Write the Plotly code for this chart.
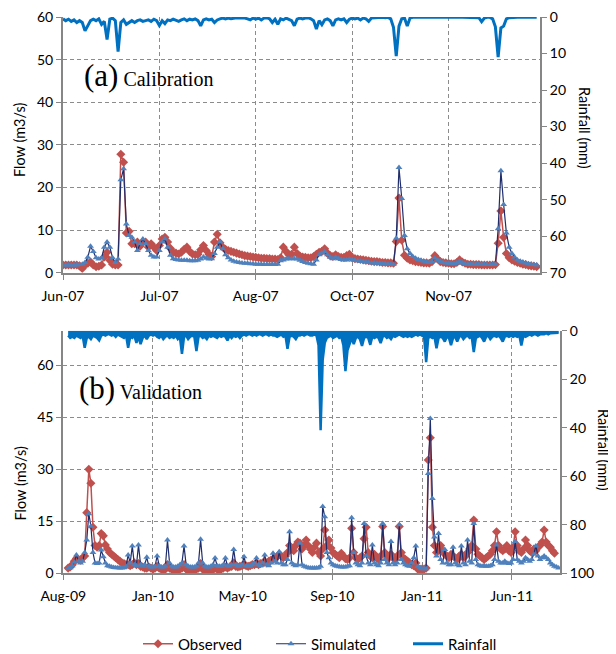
import pandas as pd
import plotly.graph_objects as go

# ---------------- Panel (a): Calibration, daily values ----------------
CAL_START = "2007-06-20"
cal_tick_labels = ["Jun-07", "Jul-07", "Aug-07", "Oct-07", "Nov-07"]

cal_observed = [
    1.8, 1.8, 1.8, 1.8, 1.8, 1.8, 1.6, 1.0, 1.8, 2.2,
    2.5, 1.8, 1.4, 1.5, 1.8, 3.7, 4.8, 2.9, 2.0, 1.8,
    1.8, 27.8, 25.9, 9.3, 9.7, 6.8, 6.8, 7.2, 6.2, 7.2,
    7.2, 6.0, 6.8, 6.0, 5.2, 6.4, 7.9, 8.3, 7.2, 5.7,
    4.8, 4.6, 4.4, 4.8, 5.5, 6.0, 5.0, 4.4, 4.2, 4.3,
    5.4, 6.4, 5.2, 4.3, 3.8, 7.2, 9.0, 7.0, 6.0, 5.5,
    5.2, 5.0, 4.8, 4.6, 4.4, 4.2, 4.0, 3.9, 3.8, 3.7,
    3.6, 3.5, 3.4, 3.4, 3.3, 3.3, 3.2, 3.2, 3.1, 3.5,
    6.0, 5.0, 4.2, 4.3, 6.0, 4.5, 3.9, 3.7, 3.6, 3.5,
    3.5, 3.8, 4.3, 4.8, 5.0, 5.6, 4.6, 4.0, 3.8, 4.2,
    3.8, 3.6, 3.6, 4.0, 4.3, 3.5, 3.3, 3.2, 3.1, 3.0,
    2.9, 2.8, 2.7, 2.6, 2.6, 2.5, 2.4, 2.4, 2.3, 2.3,
    2.2, 7.3, 17.5, 7.6, 4.1, 3.4, 3.0, 2.8, 2.6, 2.5,
    2.4, 2.3, 2.3, 2.2, 2.6, 4.0, 3.2, 2.6, 2.4, 2.3,
    2.2, 2.1, 2.1, 2.4, 3.0, 2.5, 2.2, 2.0, 2.0, 1.9,
    1.9, 1.9, 1.8, 1.8, 1.8, 1.8, 1.8, 1.9, 6.9, 14.5,
    8.3, 4.5, 3.5, 3.0, 2.7, 2.4, 2.2, 2.0, 1.9, 1.7,
    1.6, 1.5, 1.4,
]
cal_simulated = [
    1.8, 1.8, 1.8, 1.8, 1.8, 1.8, 1.9, 2.0, 2.4, 3.6,
    6.2, 5.0, 3.5, 3.2, 3.5, 6.0, 7.2, 6.0, 3.5, 2.4,
    3.2, 21.8, 24.4, 11.4, 8.7, 8.3, 7.2, 5.2, 6.8, 7.9,
    6.8, 5.2, 4.1, 3.7, 3.7, 5.2, 7.2, 7.9, 6.0, 4.1,
    3.3, 3.1, 3.0, 2.9, 2.9, 2.9, 2.8, 2.8, 2.8, 2.9,
    3.2, 3.7, 3.4, 3.2, 3.3, 4.5, 6.0, 7.2, 5.6, 4.2,
    3.5, 3.0, 2.7, 2.5, 2.4, 2.3, 2.2, 2.2, 2.1, 2.1,
    2.0, 2.0, 2.0, 1.9, 1.9, 1.9, 1.9, 1.9, 2.0, 2.8,
    3.0, 3.2, 3.3, 3.3, 3.3, 3.2, 2.9, 2.6, 2.4, 2.2,
    2.1, 2.0, 3.0, 4.2, 4.6, 5.0, 4.2, 3.6, 3.3, 3.6,
    3.3, 3.1, 3.0, 3.0, 3.2, 3.0, 2.9, 2.8, 2.7, 2.6,
    2.5, 2.4, 2.3, 2.3, 2.2, 2.2, 2.1, 2.1, 2.0, 2.0,
    2.0, 8.1, 24.7, 17.4, 8.7, 5.6, 4.5, 3.8, 3.4, 3.1,
    2.9, 2.7, 2.5, 2.4, 2.6, 3.4, 3.0, 2.6, 2.4, 2.3,
    2.2, 2.2, 2.1, 2.3, 2.6, 2.3, 2.1, 2.0, 2.0, 2.0,
    2.0, 2.0, 2.0, 1.9, 1.9, 1.9, 1.9, 2.0, 10.3, 23.9,
    16.0, 9.3, 6.0, 4.5, 3.6, 3.0, 2.7, 2.5, 2.3, 2.1,
    2.0, 1.9, 1.8,
]
cal_rainfall = [
    0.5, 1.0, 0.6, 1.2, 0.8, 1.5, 1.0, 1.5, 3.8, 2.5,
    1.0, 0.6, 1.0, 0.5, 2.0, 1.2, 6.2, 0.6, 0.3, 1.0,
    9.5, 1.5, 0.8, 2.0, 1.5, 1.0, 1.5, 1.0, 0.8, 1.2,
    1.0, 0.8, 1.2, 0.6, 1.0, 2.3, 1.0, 1.8, 0.8, 1.0,
    0.6, 0.8, 1.2, 0.8, 0.5, 1.0, 0.6, 0.8, 0.5, 1.0,
    2.4, 0.8, 0.5, 0.8, 0.6, 1.5, 0.8, 0.5, 0.3, 0.5,
    0.3, 0.5, 0.3, 0.2, 0.3, 0.2, 0.3, 0.5, 0.8, 0.3,
    0.6, 0.3, 0.8, 0.3, 0.2, 0.5, 1.5, 0.6, 2.0, 0.5,
    0.8, 0.3, 0.6, 1.0, 2.4, 0.6, 0.3, 0.5, 0.3, 0.2,
    0.5, 1.0, 3.3, 1.0, 2.1, 0.8, 0.5, 1.0, 2.4, 0.8,
    0.5, 0.8, 0.5, 1.5, 0.6, 0.3, 0.5, 0.3, 0.8, 0.3,
    0.5, 1.2, 0.3, 0.2, 0.3, 0.2, 0.1, 0.2, 0.1, 0.5,
    2.8, 10.7, 2.5, 0.5, 0.3, 2.5, 0.3, 0.1, 0.2, 0.1,
    0.1, 0.2, 0.1, 0.1, 0.2, 0.1, 0.1, 0.2, 0.1, 0.1,
    0.2, 0.1, 0.1, 0.2, 0.1, 0.1, 0.1, 0.2, 0.1, 0.1,
    0.1, 0.2, 1.3, 0.3, 0.1, 0.1, 0.5, 2.7, 11.0, 3.0,
    2.5, 0.5, 0.2, 0.1, 0.1, 0.1, 0.1, 0.1, 0.1, 0.1,
    0.1, 0.1, 0.1,
]

# ---------------- Panel (b): Validation, one value every 3 days ----------------
VAL_START = "2009-09-01"
val_tick_labels = ["Aug-09", "Jan-10", "May-10", "Sep-10", "Jan-11", "Jun-11"]

val_observed = [
    1.5, 1.8, 2.5, 3.5, 4.3, 4.0, 3.8, 4.5, 5.0, 17.5,
    30.0, 26.0, 13.3, 8.0, 7.5, 8.0, 11.5, 10.8, 8.2, 7.0,
    6.0, 5.5, 5.0, 4.5, 4.0, 3.5, 3.0, 2.8, 2.5, 2.5,
    2.2, 2.5, 3.0, 2.5, 2.8, 2.0, 1.8, 1.5, 1.5, 1.8,
    1.5, 1.2, 1.5, 2.0, 1.5, 1.2, 1.0, 1.2, 2.5, 1.5,
    1.2, 1.0, 0.8, 1.0, 1.2, 1.5, 2.5, 1.2, 1.0, 0.8,
    0.8, 1.0, 1.2, 1.5, 2.8, 1.2, 0.8, 0.6, 0.6, 0.8,
    1.0, 1.5, 1.2, 1.0, 1.2, 1.5, 1.8, 1.5, 1.8, 2.0,
    3.0, 2.0, 1.8, 2.0, 2.2, 2.5, 2.2, 2.0, 2.2, 2.5,
    2.5, 2.8, 2.5, 2.8, 3.0, 3.2, 3.0, 3.5, 3.8, 4.0,
    4.5, 4.8, 5.5, 5.0, 4.5, 5.0, 6.0, 8.0, 7.0, 6.5,
    8.0, 9.0, 8.7, 7.0, 8.0, 9.6, 8.0, 7.0, 6.0, 7.5,
    8.7, 6.0, 5.0, 7.0, 12.5, 8.0, 9.6, 7.3, 6.0, 5.5,
    5.0, 4.5, 5.8, 5.0, 4.2, 4.0, 4.5, 13.0, 6.0, 4.5,
    4.0, 4.5, 5.0, 10.0, 13.3, 6.0, 5.0, 4.5, 5.5, 4.5,
    4.0, 5.0, 13.5, 6.0, 5.0, 4.5, 5.5, 4.5, 4.0, 5.0,
    13.5, 6.0, 4.5, 4.0, 3.5, 3.0, 2.5, 2.2, 3.0, 1.2,
    1.2, 1.2, 1.2, 1.5, 32.7, 39.1, 13.3, 8.0, 6.0, 7.0,
    8.0, 6.5, 5.5, 5.0, 4.5, 5.5, 5.0, 4.5, 4.0, 5.0,
    5.5, 4.5, 5.0, 6.0, 7.0, 8.0, 15.4, 7.0, 5.5, 5.0,
    4.5, 4.0, 4.5, 5.0, 5.5, 6.5, 8.0, 12.0, 8.0, 7.0,
    6.5, 7.0, 8.0, 6.5, 6.0, 7.5, 12.0, 8.0, 6.5, 6.0,
    7.0, 9.6, 8.0, 6.5, 6.0, 7.0, 6.5, 7.5, 8.0, 9.0,
    12.5, 9.0, 8.0, 7.5, 6.5, 5.8, None, None,
]
val_simulated = [
    1.4, 1.6, 2.2, 3.2, 5.3, 3.5, 3.0, 3.5, 6.0, 9.6,
    17.2, 13.6, 6.0, 3.0, 2.8, 3.0, 6.7, 4.8, 3.0, 2.2,
    2.0, 1.8, 1.7, 1.6, 1.6, 1.5, 1.5, 1.6, 2.0, 5.3,
    3.0, 7.9, 2.5, 2.2, 8.2, 2.5, 2.0, 2.5, 4.6, 2.0,
    1.8, 1.8, 2.0, 5.0, 2.2, 1.8, 1.8, 2.0, 9.6, 3.0,
    2.0, 1.8, 1.8, 2.0, 2.5, 3.0, 7.9, 2.5, 2.0, 1.8,
    1.8, 1.8, 2.0, 3.0, 9.8, 3.0, 2.0, 1.8, 1.8, 2.0,
    2.5, 4.4, 2.2, 2.0, 2.0, 2.5, 4.4, 2.2, 2.0, 2.5,
    6.9, 2.5, 2.0, 2.0, 2.5, 4.8, 2.2, 2.0, 2.0, 2.5,
    3.0, 4.4, 2.5, 2.2, 3.0, 5.3, 2.5, 2.2, 3.0, 5.8,
    3.5, 3.0, 6.2, 3.0, 2.5, 2.5, 4.0, 12.0, 3.0, 2.5,
    2.2, 2.5, 8.7, 2.5, 2.0, 1.8, 1.6, 1.5, 1.5, 1.5,
    1.5, 1.6, 2.0, 19.3, 16.3, 6.0, 4.5, 3.0, 2.5, 2.2,
    2.0, 1.9, 1.8, 1.8, 1.8, 2.0, 2.2, 16.0, 6.0, 3.0,
    2.5, 2.2, 3.0, 14.4, 5.0, 3.0, 2.5, 8.2, 3.0, 2.5,
    2.2, 3.0, 14.4, 4.0, 3.0, 2.5, 9.2, 3.0, 2.5, 3.0,
    14.0, 4.0, 3.0, 2.5, 2.2, 2.0, 3.0, 4.5, 7.9, 2.0,
    1.5, 1.3, 1.3, 1.3, 28.8, 44.7, 21.6, 10.5, 5.0, 11.5,
    4.0, 3.0, 6.9, 3.0, 2.5, 2.5, 7.5, 3.0, 2.5, 2.2,
    7.9, 3.0, 2.5, 9.6, 3.5, 3.0, 14.4, 4.0, 2.5, 2.2,
    2.0, 2.2, 2.0, 2.0, 2.2, 2.5, 4.0, 8.2, 3.5, 3.0,
    3.0, 3.5, 3.0, 2.8, 3.0, 4.0, 9.2, 4.0, 3.5, 3.0,
    3.5, 4.5, 4.0, 3.5, 4.0, 5.5, 7.9, 5.0, 4.0, 4.5,
    5.0, 4.5, 4.0, 3.0, 2.5, 2.0, 1.8, 1.5,
]
val_rainfall = [
    2.0, 3.0, 2.5, 3.0, 2.0, 2.5, 3.0, 2.0, 7.0, 3.0,
    2.5, 3.5, 2.0, 2.5, 3.0, 4.0, 2.0, 1.5, 2.0, 1.5,
    1.5, 2.0, 1.5, 2.5, 1.5, 2.0, 2.5, 3.0, 2.0, 7.0,
    2.5, 3.0, 2.0, 5.0, 2.5, 5.5, 3.0, 2.0, 3.5, 2.0,
    1.5, 2.0, 1.5, 2.5, 3.0, 2.0, 3.5, 2.5, 2.0, 3.0,
    2.5, 3.0, 2.0, 3.5, 2.5, 9.5, 2.5, 2.0, 3.5, 2.5,
    2.0, 2.5, 8.4, 2.5, 2.0, 3.0, 2.5, 3.5, 2.0, 2.5,
    2.0, 2.5, 3.0, 2.0, 2.5, 2.0, 2.5, 4.0, 2.0, 3.0,
    2.0, 2.5, 2.0, 3.0, 2.0, 1.5, 2.0, 1.5, 1.5, 2.0,
    1.5, 2.0, 1.5, 1.5, 2.0, 1.5, 1.5, 2.0, 1.5, 2.0,
    2.0, 2.5, 2.0, 1.5, 2.5, 2.0, 7.5, 2.5, 2.0, 2.5,
    3.5, 2.0, 2.0, 1.5, 2.0, 1.5, 1.5, 2.0, 2.0, 1.5,
    2.0, 6.0, 41.0, 12.0, 5.0, 3.0, 2.5, 2.0, 3.0, 2.5,
    2.0, 3.0, 2.5, 6.0, 16.7, 8.0, 5.0, 3.0, 5.5, 3.0,
    2.5, 3.5, 6.3, 3.0, 2.5, 3.0, 5.8, 2.5, 3.0, 2.5,
    3.0, 5.1, 2.5, 2.0, 3.0, 2.5, 3.5, 2.0, 2.5, 2.0,
    1.5, 2.0, 2.5, 2.0, 2.5, 2.0, 2.5, 2.0, 1.5, 2.0,
    1.5, 2.0, 2.5, 13.0, 3.0, 2.5, 3.0, 2.5, 7.2, 3.0,
    2.5, 3.0, 4.5, 2.5, 3.0, 6.0, 3.0, 2.5, 4.5, 2.5,
    2.0, 3.5, 2.5, 2.0, 3.0, 2.5, 8.8, 3.0, 2.5, 2.0,
    3.0, 4.5, 2.5, 2.0, 3.5, 2.5, 2.0, 2.5, 2.0, 3.0,
    4.5, 2.5, 2.0, 2.5, 2.0, 2.5, 2.0, 2.5, 2.0, 6.1,
    2.0, 2.5, 2.0, 1.5, 2.0, 1.5, 1.5, 2.0, 1.5, 1.5,
    1.5, 1.0, 1.5, 1.0, 1.0, 0.8, 1.0, 0.8,
]

# ---------------- styling ----------------
OBS_C = "#C0504D"
SIM_LINE = "#1F2D6B"
SIM_MK = "#4F81BD"
RAIN_C = "#0070C0"
AXIS_C = "#868686"
GRID_C = "#8C8C8C"
FONT = "Lato"
W, H = 616, 654
OFF = 8  # page body margin of the html page


def fx(p):
    return (p - OFF) / W


def fy(p):
    return 1 - (p - OFF) / H


cal_dates = pd.date_range(CAL_START, periods=len(cal_observed), freq="D")
val_dates = pd.date_range(VAL_START, periods=len(val_observed), freq="3D")

cal_t0 = pd.Timestamp(CAL_START)
cal_ticks = [cal_t0 + pd.Timedelta(days=35 * k) for k in range(len(cal_tick_labels))]
cal_range = [cal_t0, cal_t0 + pd.Timedelta(days=173.2)]

val_t0 = pd.Timestamp(VAL_START) - pd.Timedelta(days=7)
val_ticks = [val_t0 + pd.Timedelta(days=130 * k) for k in range(len(val_tick_labels))]
val_range = [val_t0, pd.Timestamp(VAL_START) + pd.Timedelta(days=713)]

fig = go.Figure()


def add_panel(dates, obs, sim, rain, xa, ya, ya2, show, rain_fill):
    fig.add_trace(go.Scatter(
        x=dates, y=obs, name="Observed", mode="lines+markers",
        line=dict(color=OBS_C, width=1.5),
        marker=dict(symbol="diamond", size=7, color=OBS_C),
        xaxis=xa, yaxis=ya, showlegend=show, legend="legend"))
    fig.add_trace(go.Scatter(
        x=dates, y=sim, name="Simulated", mode="lines+markers",
        line=dict(color=SIM_LINE, width=1.2),
        marker=dict(symbol="triangle-up", size=6, color=SIM_MK),
        xaxis=xa, yaxis=ya, showlegend=show, legend="legend2"))
    fig.add_trace(go.Scatter(
        x=dates, y=rain, name="Rainfall", mode="lines",
        line=dict(color=RAIN_C, width=3 if not rain_fill else 2.5),
        fill="tozeroy" if rain_fill else None, fillcolor=RAIN_C,
        xaxis=xa, yaxis=ya2, showlegend=show, legend="legend3"))


add_panel(cal_dates, cal_observed, cal_simulated, cal_rainfall, "x", "y", "y2", True, False)
add_panel(val_dates, val_observed, val_simulated, val_rainfall, "x2", "y3", "y4", False, True)

tickfont = dict(family=FONT, size=14, color="#000000")
common = dict(showline=True, linecolor=AXIS_C, linewidth=2, ticks="outside",
              ticklen=5, tickcolor=AXIS_C, tickwidth=1, tickfont=tickfont,
              zeroline=False, automargin=False, ticklabeloverflow="allow")
grid = dict(showgrid=True, gridcolor=GRID_C, gridwidth=1, griddash="4px,3px")


def legend_at(text_start_px):
    return dict(orientation="h", x=fx(text_start_px - 39), y=fy(644),
                xanchor="left", yanchor="middle",
                font=dict(family=FONT, size=15, color="#000000"),
                bgcolor="rgba(0,0,0,0)")


fig.update_layout(
    width=W, height=H,
    margin=dict(l=0, r=0, t=0, b=0, pad=0, autoexpand=False),
    paper_bgcolor="white", plot_bgcolor="white",
    font=dict(family=FONT, size=14, color="#000000"),
    xaxis=dict(domain=[fx(63), fx(540)], anchor="y", type="date",
               range=cal_range, tickvals=cal_ticks, ticktext=cal_tick_labels,
               ticklabelstandoff=4, **common, **grid),
    yaxis=dict(domain=[fy(272.7), fy(17)], anchor="x", range=[0, 60],
               tick0=0, dtick=10, **common, **grid),
    yaxis2=dict(overlaying="y", anchor="x", side="right", range=[70, 0],
                tick0=0, dtick=10, showgrid=False, **common),
    xaxis2=dict(domain=[fx(63.3), fx(560)], anchor="y3", type="date",
                range=val_range, tickvals=val_ticks, ticktext=val_tick_labels,
                ticklabelstandoff=4, **common, **grid),
    yaxis3=dict(domain=[fy(573.3), fy(330.7)], anchor="x2", range=[0, 70],
                tickvals=[0, 15, 30, 45, 60], **common, **grid),
    yaxis4=dict(overlaying="y3", anchor="x2", side="right", range=[100, 0],
                tick0=0, dtick=20, showgrid=False, **common),
    legend=legend_at(177),
    legend2=legend_at(310),
    legend3=legend_at(447),
)

serif = dict(family="Liberation Serif", size=20, color="#000000")
label_font = dict(family=FONT, size=14.5, color="#000000")
annotations = [
    dict(text='<span style="font-size:31px">(a)</span> Calibration', x=fx(82), y=fy(76),
         xanchor="left", yanchor="middle", font=serif),
    dict(text='<span style="font-size:31px">(b)</span> Validation', x=fx(77), y=fy(388),
         xanchor="left", yanchor="middle", font=serif),
    dict(text="Flow (m3/s)", x=fx(19), y=fy(140), textangle=-90,
         xanchor="center", yanchor="middle", font=label_font),
    dict(text="Rainfall (mm)", x=fx(585), y=fy(128), textangle=90,
         xanchor="center", yanchor="middle", font=label_font),
    dict(text="Flow (m3/s)", x=fx(19.5), y=fy(484), textangle=-90,
         xanchor="center", yanchor="middle", font=label_font),
    dict(text="Rainfall (mm)", x=fx(604), y=fy(450), textangle=90,
         xanchor="center", yanchor="middle", font=label_font),
]
for a in annotations:
    a.update(xref="paper", yref="paper", showarrow=False)
fig.update_layout(annotations=annotations)

fig.write_html("out.html")
